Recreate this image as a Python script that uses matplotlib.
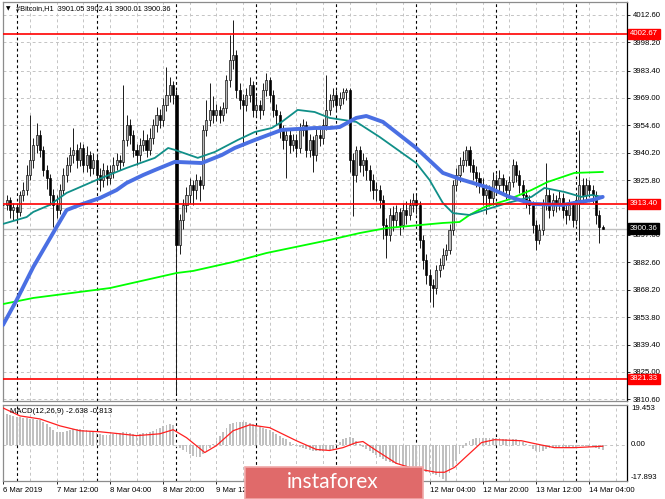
import matplotlib
matplotlib.use("Agg")
import matplotlib.pyplot as plt
import matplotlib.transforms as mtrans
from matplotlib.patches import Rectangle
import numpy as np

plt.rcParams['font.family'] = ['Liberation Sans', 'DejaVu Sans']

# H1 bars, 6 Mar 20:00 .. 14 Mar 08:00
OPEN_FIRST = 3913.0
CLOSE = [
    3912.8, 3915.4, 3910.1, 3911.7, 3909.1, 3918.0, 3920.6, 3928.5, 3936.4, 3944.3,
    3949.5, 3941.7, 3931.1, 3926.9, 3918.0, 3912.8, 3910.1, 3920.6, 3928.5, 3933.8,
    3939.0, 3941.7, 3936.4, 3942.7, 3933.8, 3939.0, 3932.2, 3936.4, 3928.5, 3925.9,
    3931.1, 3926.9, 3930.1, 3933.8, 3936.4, 3935.4, 3946.9, 3954.8, 3949.5, 3941.7,
    3939.0, 3944.3, 3946.9, 3941.7, 3948.0, 3954.8, 3960.0, 3957.4, 3965.3, 3970.6,
    3975.8, 3970.6, 3891.7, 3904.9, 3912.8, 3918.0, 3923.3, 3920.6, 3925.9, 3923.3,
    3952.2, 3957.4, 3962.7, 3960.0, 3962.7, 3960.0, 3963.7, 3978.4, 3988.9, 3991.6,
    3973.2, 3967.9, 3965.3, 3970.6, 3975.8, 3962.7, 3965.3, 3962.7, 3973.2, 3978.4,
    3970.6, 3962.7, 3960.0, 3952.2, 3946.9, 3949.5, 3944.3, 3946.9, 3942.7, 3952.2,
    3954.8, 3941.7, 3946.9, 3939.0, 3949.5, 3948.0, 3954.8, 3962.7, 3967.9, 3970.6,
    3965.3, 3969.0, 3972.1, 3973.2, 3936.4, 3928.5, 3941.7, 3933.8, 3936.4, 3931.1,
    3925.9, 3920.6, 3920.6, 3915.4, 3902.2, 3897.0, 3907.5, 3904.9, 3909.1, 3902.2,
    3910.1, 3907.5, 3912.8, 3915.4, 3912.8, 3894.4, 3883.9, 3876.0, 3870.7, 3869.1,
    3878.6, 3881.2, 3886.5, 3889.1, 3899.6, 3923.3, 3928.5, 3933.8, 3936.4, 3941.7,
    3933.8, 3930.1, 3926.9, 3923.3, 3918.0, 3920.6, 3916.4, 3925.9, 3923.3, 3926.9,
    3923.3, 3920.6, 3924.8, 3933.8, 3928.5, 3923.3, 3918.0, 3915.4, 3912.8, 3902.2,
    3894.4, 3899.6, 3912.8, 3918.0, 3910.1, 3915.4, 3912.8, 3916.4, 3910.1, 3907.5,
    3912.8, 3904.9, 3915.4, 3923.3, 3918.0, 3923.3, 3920.6, 3918.0, 3907.5, 3901.05,
    3900.36]
HIGH = [
    3916, 3918, 3917, 3914, 3914, 3920, 3925, 3934, 3960, 3948,
    3956, 3952, 3944, 3934, 3929, 3921, 3918, 3924, 3932, 3938,
    3943, 3953, 3945, 3946, 3945, 3944, 3941, 3940, 3939, 3932,
    3935, 3934, 3934, 3938, 3940, 3939, 3976, 3960, 3958, 3952,
    3945, 3948, 3952, 3950, 3953, 3958, 3964, 3963, 3969, 3985,
    3980, 3978, 3973, 3908, 3916, 3922, 3927, 3926, 3929, 3928,
    3955, 3968, 3977, 3970, 3966, 3965, 3967, 3981, 4002, 4010,
    3994, 3977, 3971, 3974, 3980, 3978, 3970, 3968, 3977, 3982,
    3980, 3973, 3966, 3962, 3955, 3953, 3952, 3950, 3950, 3956,
    3958, 3957, 3950, 3949, 3953, 3953, 3958, 3981, 3971, 3974,
    3973, 3972, 3974, 3974, 3974, 3940, 3944, 3944, 3940, 3938,
    3934, 3929, 3925, 3923, 3918, 3906, 3911, 3912, 3913, 3911,
    3914, 3915, 3916, 3919, 3918, 3915, 3897, 3887, 3879, 3874,
    3881, 3885, 3890, 3892, 3903, 3926, 3932, 3938, 3941, 3944,
    3944, 3937, 3933, 3930, 3927, 3924, 3923, 3930, 3929, 3931,
    3929, 3926, 3928, 3937, 3936, 3931, 3926, 3921, 3918, 3915,
    3905, 3903, 3916, 3935, 3921, 3919, 3918, 3920, 3919, 3913,
    3916, 3915, 3919, 3952, 3927, 3927, 3926, 3923, 3920, 3910,
    3902.41]
LOW = [
    3908, 3910, 3906, 3905, 3904, 3907, 3915, 3918, 3926, 3932,
    3940, 3938, 3928, 3921, 3913, 3901, 3906, 3908, 3918, 3925,
    3930, 3935, 3932, 3933, 3930, 3930, 3928, 3929, 3924, 3920,
    3922, 3923, 3924, 3927, 3931, 3931, 3933, 3944, 3945, 3938,
    3934, 3936, 3941, 3938, 3939, 3945, 3951, 3953, 3954, 3962,
    3967, 3966, 3814, 3887, 3900, 3909, 3914, 3913, 3916, 3915,
    3921, 3949, 3954, 3956, 3957, 3956, 3957, 3961, 3975, 3984,
    3969, 3963, 3944, 3962, 3967, 3959, 3959, 3958, 3960, 3970,
    3967, 3959, 3955, 3948, 3942, 3927, 3940, 3941, 3938, 3940,
    3949, 3938, 3938, 3930, 3936, 3944, 3945, 3952, 3960, 3964,
    3962, 3963, 3966, 3968, 3930, 3907, 3925, 3930, 3928, 3926,
    3920, 3916, 3915, 3911, 3895, 3885, 3894, 3899, 3901, 3897,
    3900, 3903, 3905, 3909, 3908, 3890, 3879, 3871, 3862, 3859,
    3866, 3875, 3879, 3884, 3887, 3897, 3920, 3925, 3930, 3933,
    3930, 3926, 3922, 3919, 3913, 3908, 3912, 3913, 3919, 3920,
    3919, 3916, 3917, 3922, 3925, 3919, 3914, 3911, 3908, 3898,
    3889, 3892, 3897, 3910, 3906, 3907, 3909, 3910, 3906, 3903,
    3905, 3901, 3902, 3894, 3914, 3915, 3917, 3914, 3903, 3893,
    3900.01]

# moving averages, read at sample bars
BLUE_X = [-0.1, 4, 9, 16, 19, 23, 29, 34, 37, 42, 45.5, 51.5, 59.6, 65.6, 69.5, 75.5,
          83.6, 93.5, 98, 101, 106, 109, 114, 124, 132, 138, 146, 152, 159, 168, 177, 180]
BLUE_Y = [3849.7, 3862.8, 3880.2, 3901.2, 3910.1, 3912.8, 3916.4, 3920.6, 3924.3, 3928.5,
          3931.1, 3935.4, 3934.8, 3939.0, 3942.7, 3946.9, 3952.2, 3953.2, 3953.2, 3953.7,
          3958.5, 3959.5, 3956.4, 3942.7, 3929.6, 3925.9, 3921.7, 3917.0, 3913.3, 3912.8,
          3915.4, 3917.0]
TEAL_X = [-0.1, 7, 9, 14, 19, 21, 28, 37, 45.5, 49.5, 51.5, 58.4, 63.5, 70.4, 75.5, 80.6,
          83.6, 88.4, 93.5, 98, 106, 113, 124, 128, 132, 135, 140, 144.5, 151.4, 158.6,
          162.5, 168.5, 173.6, 176.6, 180]
TEAL_Y = [3902.8, 3906.4, 3909.1, 3912.8, 3919.1, 3920.6, 3925.9, 3932.2, 3937.5, 3942.7,
          3941.7, 3937.5, 3940.6, 3946.9, 3951.1, 3953.2, 3956.4, 3962.7, 3961.6, 3958.5,
          3956.4, 3948.5, 3934.8, 3925.9, 3913.8, 3908.5, 3907.5, 3910.1, 3913.8, 3917.0,
          3921.7, 3919.6, 3917.0, 3918.0, 3917.0]
GREEN_X = [-0.1, 9, 32, 52, 57, 69, 79, 98, 107, 115, 132, 137, 140, 144.5, 151.4, 158.6,
           163.4, 171.5, 180]
GREEN_Y = [3860.7, 3863.9, 3869.1, 3877.0, 3878.1, 3882.8, 3887.5, 3894.4, 3898.0, 3900.6,
           3903.3, 3903.8, 3907.5, 3911.7, 3915.4, 3920.6, 3924.8, 3929.6, 3930.1]

LEVELS = [4002.67, 3913.40, 3821.33]
LAST_PRICE = 3900.36

PRICE_TICKS = [4012.60, 3998.20, 3983.40, 3969.00, 3954.60, 3940.20, 3925.80, 3911.40,
               3897.00, 3882.60, 3868.20, 3853.80, 3839.40, 3825.00, 3810.60]

# MACD(12,26,9)
MACD_HIST = [
    15.5, 15, 14.5, 14, 13.5, 13.5, 13, 13, 12.5, 12.5, 12, 12,
    11, 10, 8.5, 7, 6, 6, 6, 6.5, 7, 7.8, 7.5, 7.5, 7, 7, 6.5, 6,
    5.5, 5, 4.5, 4.5, 4.5, 5, 5.5, 5.5, 6, 6, 5.5, 5, 4.5, 5,
    5.5, 5.5, 6, 6.5, 7.5, 8, 9, 9.5, 10, 9.5,
    -1, -1.5, -2.5, -3.5, -4.5, -5.5, -6, -6, -4.5, -3, -1.5, 0.5, 2, 4,
    6, 8, 10, 10.5, 11, 11, 11, 11, 10.5, 10, 9, 8.5, 8, 7.5, 7,
    6, 5, 4, 3, 2.5, 1.5, 0.5, -0.5, -1, -1.5, -2, -2.5, -3, -3,
    -3, -3, -2.5, -2.5, -2, 0.5, 1.5, 2.5, 3, 3.5, 3, 2, 0.5, -1, -2, -3, -4,
    -5, -6, -7, -8, -8.5, -9, -9.5, -10, -10, -10.5, -11, -11.5, -12, -12.5,
    -13, -13.5, -14, -14.5, -15, -16, -17, -17.8, -14, -11, -8, -4.5, -1.5, 1,
    2, 2.5, 3, 3, 3, 3, 3, 3, 3, 3, 2.5, 2.5, 2.5, 2.5, 2.5, 2, 1.5,
    0.5, -0.5, -2, -3, -3.5, -3, -2, -1.5, -1.5, -1, -1,
    -1, -1, -1, -1.5, -1, -0.5, -0.5, -0.5, -1, -1, -1.5, -2, -2.638]
SIG_X = [-0.1, 5, 11, 17, 23, 29, 35, 40, 47, 51, 55, 59, 60.5, 64, 69, 74, 80, 88, 94, 98,
         102, 106, 108, 112, 118, 122, 130, 132.5, 135.5, 139.4, 143.6, 147.5, 155.6, 159.5,
         165.5, 171.5, 180]
SIG_Y = [18.0, 14.1, 12.6, 9.2, 6.8, 6.3, 5.3, 4.4, 5.3, 7.3, 3.4, -1.9, -3.9, -0.5, 6.8,
         9.7, 8.3, 1.9, -2.4, -2.9, -1.5, 1.0, 1.5, -2.9, -9.2, -11.2, -13.6, -13.6, -11.2,
         -5.3, 1.0, 2.4, 1.9, 0.5, -1.5, -1.5, -0.813]

DAY_BREAKS = [4, 28, 52, 76, 100, 124, 148, 172]
# labels at 10 Mar 04:00 .. 11 Mar 12:00 sit fully under the logo
TIME_TICKS = [0, 16, 32, 48, 64, 128, 144, 160, 176]
TIME_LABELS = ["6 Mar 2019", "7 Mar 12:00", "8 Mar 04:00", "8 Mar 20:00", "9 Mar 12:00",
               "12 Mar 04:00", "12 Mar 20:00", "13 Mar 12:00", "14 Mar 04:00"]

W, H = 665, 499
FS = 5.6
GRID = '#C4C4C4'


def box(l, t, r, b):
    return [l / W, 1 - b / H, (r - l) / W, (b - t) / H]


fig = plt.figure(figsize=(W / 100, H / 100), dpi=100)
ax = fig.add_axes(box(3, 2, 627, 401))
mx = fig.add_axes(box(3, 405, 627, 481))

for a in (ax, mx):
    a.set_xlim(-0.1, 187.3)
    for g in range(0, 188, 8):
        a.axvline(g, color=GRID, lw=0.7, ls=(0, (3, 3)), zorder=0)
    for d in DAY_BREAKS:
        a.axvline(d, color='black', lw=0.8, ls=(0, (2.5, 2.5)), zorder=0.5)
    for s in a.spines.values():
        s.set_color('#8C8C8C')
        s.set_linewidth(0.9)
    a.spines['right'].set_color('black')

# price pane
ax.set_ylim(3809.76, 4019.4)
for p in PRICE_TICKS:
    ax.axhline(p, color=GRID, lw=0.7, ls=(0, (3, 3)), zorder=0)
ax.yaxis.tick_right()
ax.set_yticks(PRICE_TICKS)
ax.set_yticklabels([f"{p:.2f}" for p in PRICE_TICKS], fontsize=FS)
ax.tick_params(axis='y', length=2, width=0.6, pad=2)
ax.set_xticks([])

ax.axhline(LAST_PRICE, color='#C0C0C0', lw=1.0, zorder=1)

idx = np.arange(len(CLOSE))
closes = np.array(CLOSE)
opens = np.array([OPEN_FIRST] + CLOSE[:-1])
highs = np.array(HIGH)
lows = np.array(LOW)
up = closes >= opens
ax.vlines(idx, lows, highs, color='#1A1A1A', lw=0.7, zorder=2)
ax.bar(idx[up], np.maximum(closes[up] - opens[up], 0.5), bottom=opens[up], width=0.62,
       color='#B8B8B8', edgecolor='black', linewidth=0.45, zorder=3)
ax.bar(idx[~up], opens[~up] - closes[~up], bottom=closes[~up], width=0.62,
       color='black', edgecolor='black', linewidth=0.45, zorder=3)

ax.plot(GREEN_X, GREEN_Y, color='#00FF00', lw=1.3, zorder=4, solid_joinstyle='round')
ax.plot(TEAL_X, TEAL_Y, color='#108F88', lw=1.3, zorder=4, solid_joinstyle='round')
ax.plot(BLUE_X, BLUE_Y, color='#4A6FE3', lw=2.8, zorder=5,
        solid_capstyle='round', solid_joinstyle='round')

for lv in LEVELS:
    ax.axhline(lv, color='#FF0000', lw=1.2, zorder=6)

lab_tr = mtrans.blended_transform_factory(fig.transFigure, ax.transData)
for lv in LEVELS:
    ax.text(630 / W, lv, f"{lv:.2f}", transform=lab_tr, fontsize=FS, color='white',
            va='center', ha='left', clip_on=False, zorder=10,
            bbox=dict(boxstyle='square,pad=0.22', fc='#FF0000', ec='#FF0000'))
ax.text(630 / W, LAST_PRICE, f"{LAST_PRICE:.2f}", transform=lab_tr, fontsize=FS,
        color='white', va='center', ha='left', clip_on=False, zorder=10,
        bbox=dict(boxstyle='square,pad=0.22', fc='black', ec='black'))

ax.text(6 / W, 1 - 9 / H, "\u25bc", transform=fig.transFigure, fontsize=4.2,
        family='DejaVu Sans', va='center', ha='left')
ax.text(16 / W, 1 - 9 / H, "#Bitcoin,H1  3901.05 3902.41 3900.01 3900.36",
        transform=fig.transFigure, fontsize=5.3, va='center', ha='left')

# MACD pane
mx.set_ylim(-17.893, 19.453)
mx.axhline(0, color=GRID, lw=0.7, ls=(0, (3, 3)), zorder=0)
mx.bar(np.arange(len(MACD_HIST)), MACD_HIST, width=0.55, color='#C0C0C0', zorder=2)
mx.plot(SIG_X, SIG_Y, color='#FF2020', lw=0.9, zorder=3, solid_joinstyle='round')
mx.set_yticks([])
mx.text(1.0 + 4 / 624, 19.453, "19.453", transform=mx.get_yaxis_transform(),
        fontsize=FS, va='top', ha='left')
mx.text(1.0 + 4 / 624, 0, "0.00", transform=mx.get_yaxis_transform(),
        fontsize=FS, va='center', ha='left')
mx.text(1.0 + 4 / 624, -17.893, "-17.893", transform=mx.get_yaxis_transform(),
        fontsize=FS, va='bottom', ha='left')
mx.text(7 / 624, 0.92, "MACD(12,26,9) -2.638 -0.813", transform=mx.transAxes,
        fontsize=FS, va='center', ha='left')

mx.set_xticks(TIME_TICKS)
mx.set_xticklabels(TIME_LABELS, fontsize=FS, ha='left')
mx.tick_params(axis='x', length=2, width=0.6, pad=2)

# watermark
fig.patches.append(Rectangle((245 / W, 0), 178 / W, 32 / H, transform=fig.transFigure,
                             fc='#E06A6A', ec='#F0A8A8', lw=1.2, zorder=20))
fig.text(333 / W, 1 - 482 / H, "instaforex", color='white', fontsize=15, family='Lato',
         ha='center', va='center', zorder=21)

fig.savefig("out.png", dpi=100)
